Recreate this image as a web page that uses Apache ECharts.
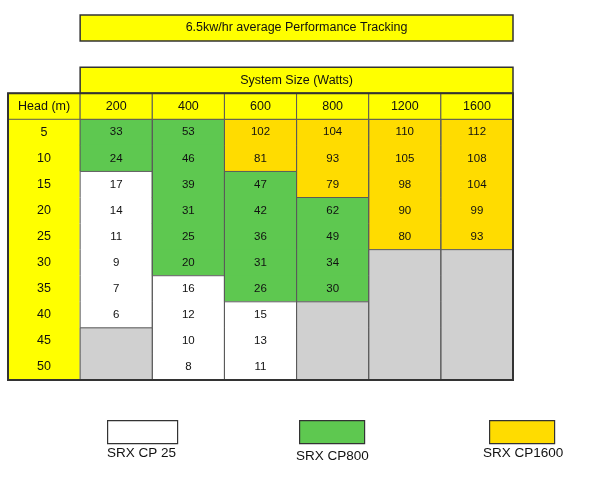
<!DOCTYPE html>
<html>
<head>
<meta charset="utf-8">
<script src="https://cdn.jsdelivr.net/npm/echarts@6/dist/echarts.min.js"></script>
<style>
  html, body { margin: 0; padding: 0; background: #fff; }
  #chart { width: 600px; height: 479px; }
</style>
</head>
<body>
<div id="chart"></div>
<script>
const chartTitle = '6.5kw/hr average Performance Tracking'
const sizeTitle = 'System Size (Watts)'
const headLabel = 'Head (m)'
const heads = ['5', '10', '15', '20', '25', '30', '35', '40', '45', '50']
const sizes = ['200', '400', '600', '800', '1200', '1600']

// values read per system size column, null = no pump
const values200 = [33, 24, 17, 14, 11, 9, 7, 6, null, null]
const values400 = [53, 46, 39, 31, 25, 20, 16, 12, 10, 8]
const values600 = [102, 81, 47, 42, 36, 31, 26, 15, 13, 11]
const values800 = [104, 93, 79, 62, 49, 34, 30, null, null, null]
const values1200 = [110, 105, 98, 90, 80, null, null, null, null, null]
const values1600 = [112, 108, 104, 99, 93, null, null, null, null, null]

// pump model for each cell
const models200 = ['CP800', 'CP800', 'CP25', 'CP25', 'CP25', 'CP25', 'CP25', 'CP25', null, null]
const models400 = ['CP800', 'CP800', 'CP800', 'CP800', 'CP800', 'CP800', 'CP25', 'CP25', 'CP25', 'CP25']
const models600 = ['CP1600', 'CP1600', 'CP800', 'CP800', 'CP800', 'CP800', 'CP800', 'CP25', 'CP25', 'CP25']
const models800 = ['CP1600', 'CP1600', 'CP1600', 'CP800', 'CP800', 'CP800', 'CP800', null, null, null]
const models1200 = ['CP1600', 'CP1600', 'CP1600', 'CP1600', 'CP1600', null, null, null, null, null]
const models1600 = ['CP1600', 'CP1600', 'CP1600', 'CP1600', 'CP1600', null, null, null, null, null]

const legendModels = ['CP25', 'CP800', 'CP1600']
const legendNames = ['SRX CP 25', 'SRX CP800', 'SRX CP1600']

const allValues = [values200, values400, values600, values800, values1200, values1600]
const allModels = [models200, models400, models600, models800, models1200, models1600]

const colors = { CP25: '#ffffff', CP800: '#5ec850', CP1600: '#ffdc00', none: '#d0d0d0' }
const yellow = '#ffff00'
const lineColor = '#5a5a5a'
const fontFamily = 'Liberation Sans'

const xCats = [headLabel].concat(sizes)
const yCats = ['title', 'gap', 'system', 'header'].concat(heads)

const bodyData = []
allValues.forEach((col, ci) => {
  col.forEach((v, ri) => {
    bodyData.push([ci + 1, ri + 4, v == null ? '' : v, allModels[ci][ri] || 'none', ri > 0 ? (allModels[ci][ri - 1] || 'none') : ''])
  })
})

function cell (api, x, y) {
  const c = api.coord([x, y])
  const s = api.size([1, 1])
  return { x: c[0] - s[0] / 2, y: c[1] - s[1] / 2, width: s[0], height: s[1] }
}

function line (x1, y1, x2, y2, w, color) {
  return { type: 'line', shape: { x1, y1, x2, y2 }, style: { stroke: color || lineColor, lineWidth: w || 1 } }
}

function label (text, x, y, size) {
  return {
    type: 'text',
    style: { text, x, y, align: 'center', verticalAlign: 'middle', fill: '#111', fontFamily, fontSize: size }
  }
}

function renderBodyFill (params, api) {
  const r = cell(api, api.value(0), api.value(1))
  const model = api.value(3)
  const v = bodyData[params.dataIndex][2]
  const kids = [
    { type: 'rect', shape: { x: r.x - 0.5, y: r.y - 0.5, width: r.width + 1, height: r.height + 1 }, style: { fill: colors[model] } }
  ]
  if (v !== '') kids.push(label(String(v), r.x + r.width / 2, r.y + r.height / 2, 11.5))
  return { type: 'group', children: kids }
}

function renderBodyLines (params, api) {
  const r = cell(api, api.value(0), api.value(1))
  const model = api.value(3)
  const above = bodyData[params.dataIndex][4]
  const kids = [
    line(r.x, r.y, r.x, r.y + r.height),
    line(r.x + r.width, r.y, r.x + r.width, r.y + r.height)
  ]
  if (above !== model) kids.push(line(r.x, r.y, r.x + r.width, r.y))
  return { type: 'group', children: kids }
}

function renderHeadCol (params, api) {
  const r = cell(api, 0, api.value(1))
  return {
    type: 'group',
    children: [
      { type: 'rect', shape: { x: r.x, y: r.y - 0.5, width: r.width, height: r.height + 1 }, style: { fill: yellow } },
      label(heads[params.dataIndex], r.x + r.width / 2, r.y + r.height / 2, 12.5)
    ]
  }
}

function renderHeader (params, api) {
  const r = cell(api, api.value(0), 3)
  return {
    type: 'group',
    children: [
      { type: 'rect', shape: r, style: { fill: yellow, stroke: lineColor, lineWidth: 1 } },
      label(xCats[api.value(0)], r.x + r.width / 2, r.y + r.height / 2, 12.5)
    ]
  }
}

const bannerTexts = [chartTitle, sizeTitle]
function renderBanner (params, api) {
  const a = cell(api, api.value(0), api.value(2))
  const b = cell(api, api.value(1), api.value(2))
  const shape = { x: a.x, y: a.y, width: b.x + b.width - a.x, height: a.height }
  return {
    type: 'group',
    children: [
      { type: 'rect', shape, style: { fill: yellow, stroke: '#333', lineWidth: 1.5 } },
      label(bannerTexts[params.dataIndex], shape.x + shape.width / 2, shape.y + shape.height / 2, 12.5)
    ]
  }
}

function renderFrame (params, api) {
  const a = cell(api, 0, 3)
  const b = cell(api, 6, yCats.length - 1)
  return {
    type: 'rect',
    shape: { x: a.x, y: a.y, width: b.x + b.width - a.x, height: b.y + b.height - a.y },
    style: { fill: 'none', stroke: '#333', lineWidth: 2 }
  }
}

const legendBoxes = [
  { x: 107, w: 70, tx: 107, ty: 454 },
  { x: 299, w: 65, tx: 296, ty: 457 },
  { x: 489, w: 65, tx: 483, ty: 454 }
]
const legendGraphics = []
legendModels.forEach((m, i) => {
  const b = legendBoxes[i]
  legendGraphics.push({ type: 'rect', left: b.x, top: 420, shape: { width: b.w, height: 23 }, style: { fill: colors[m], stroke: '#333', lineWidth: 1.2 } })
  legendGraphics.push({ type: 'text', left: b.tx, top: b.ty - 8, style: { text: legendNames[i], fill: '#111', fontFamily, fontSize: 13.5 } })
})

const chart = echarts.init(document.getElementById('chart'), null, { width: 600, height: 479 })
chart.setOption({
  animation: false,
  grid: { left: 8, right: 87, top: 15, bottom: 99 },
  xAxis: { type: 'category', data: xCats, show: false },
  yAxis: { type: 'category', data: yCats, inverse: true, show: false },
  graphic: legendGraphics,
  series: [
    { type: 'custom', renderItem: renderBodyFill, data: bodyData, z: 2, encode: { x: 0, y: 1 } },
    { type: 'custom', renderItem: renderBodyLines, data: bodyData, z: 3, encode: { x: 0, y: 1 } },
    { type: 'custom', renderItem: renderHeadCol, data: heads.map((h, i) => [0, i + 4]), z: 1, encode: { x: 0, y: 1 } },
    { type: 'custom', renderItem: renderHeader, data: xCats.map((c, i) => [i, 3]), z: 3, encode: { x: 0, y: 1 } },
    { type: 'custom', renderItem: renderBanner, data: [[1, 6, 0], [1, 6, 2]], z: 3 },
    { type: 'custom', renderItem: renderFrame, data: [[0, 3]], z: 4 }
  ]
})
</script>
</body>
</html>
